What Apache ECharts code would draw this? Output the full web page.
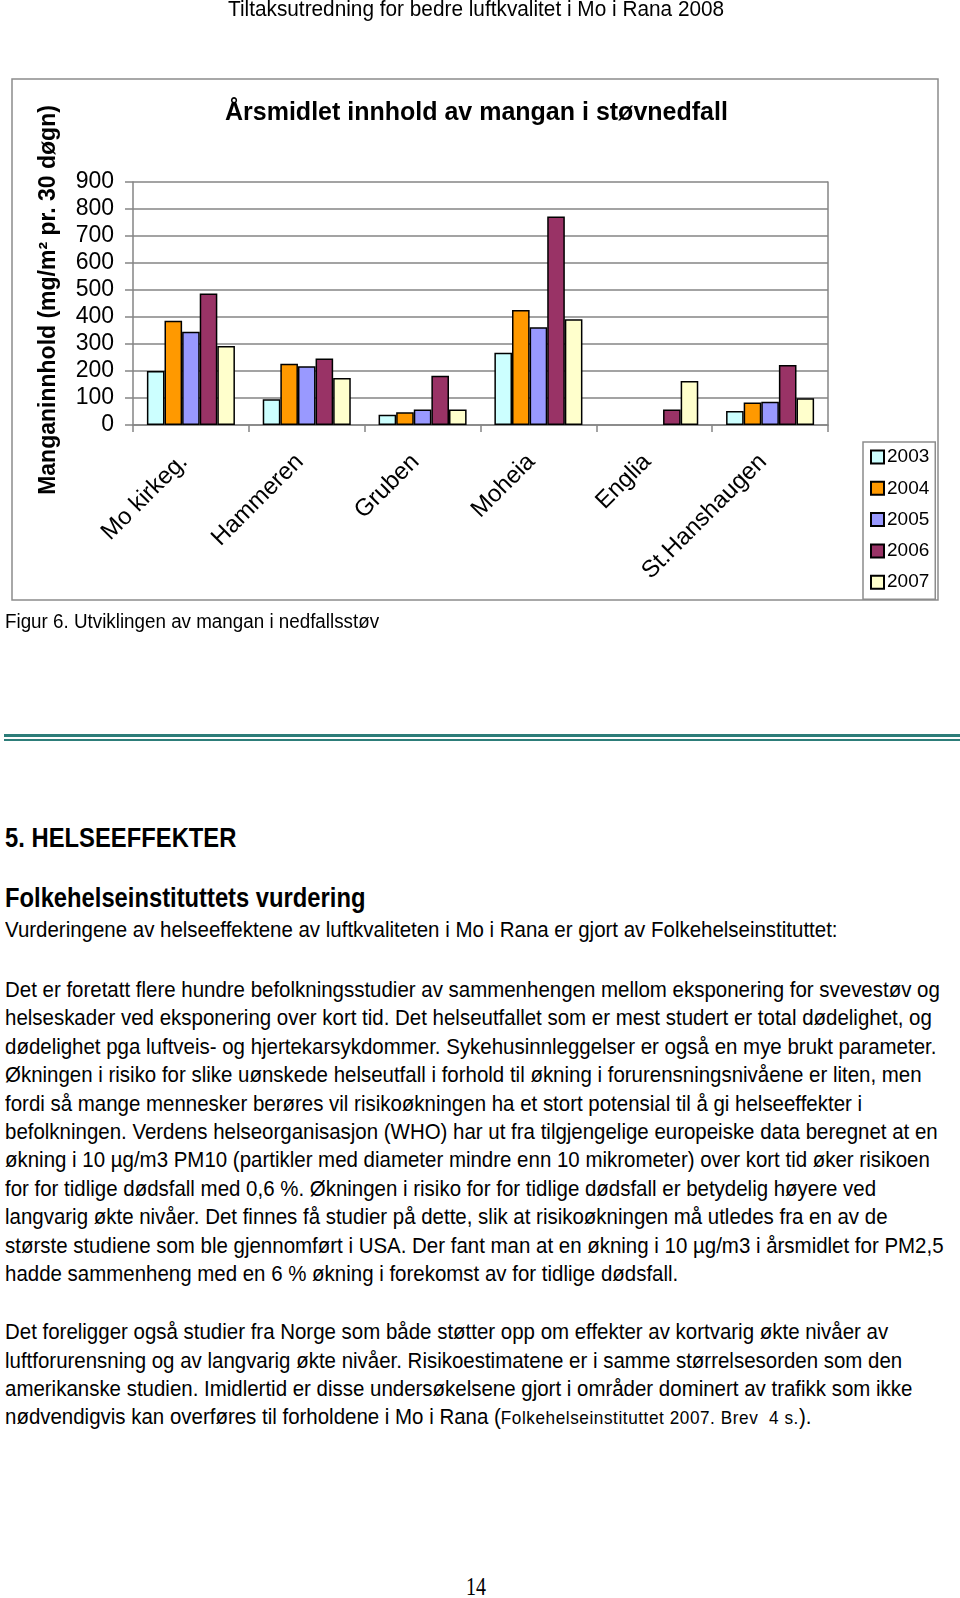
<!DOCTYPE html>
<html>
<head>
<meta charset="utf-8">
<title>Årsmidlet innhold av mangan i støvnedfall</title>
<script src="https://cdn.jsdelivr.net/npm/echarts@6/dist/echarts.min.js"></script>
<style>
  html, body {
    margin: 0;
    padding: 0;
    background: #fff;
  }
  body {
    position: relative;
    width: 960px;
    height: 1598px;
    overflow: hidden;
    font-family: "Liberation Sans", Arial, sans-serif;
    color: #000;
  }
  #chart {
    position: absolute;
    left: 0;
    top: 0;
    width: 960px;
    height: 640px;
  }
  .ln {
    position: absolute;
    white-space: pre;
    transform-origin: 0 0;
  }
  .rule {
    position: absolute;
    left: 4px;
    width: 956px;
    background: #2d7d79;
  }
  .small {
    font-size: 0.84em;
    letter-spacing: 0.6px;
  }
</style>
</head>
<body>
<div id="chart"></div>
<div class="rule" style="top:734px;height:3px"></div>
<div class="rule" style="top:739px;height:2px"></div>
<div id="page"></div>

<script>
// data (mg/m² pr. 30 døgn)
const categories = ['Mo kirkeg.', 'Hammeren', 'Gruben', 'Moheia', 'Englia', 'St.Hanshaugen'];
const years = ['2003', '2004', '2005', '2006', '2007'];
const v2003 = [200, 95, 38, 268, null, 52];
const v2004 = [386, 227, 47, 426, null, 83];
const v2005 = [345, 218, 57, 362, null, 86];
const v2006 = [487, 246, 182, 772, 57, 222];
const v2007 = [293, 174, 57, 392, 163, 99];
const yTicks = [0, 100, 200, 300, 400, 500, 600, 700, 800, 900];

const seriesValues = [v2003, v2004, v2005, v2006, v2007];
const barColors = ['#CCFFFF', '#FF9900', '#9999FF', '#993366', '#FFFFCC'];
const gridColor = '#858585';
const font = '"Liberation Sans", Arial, sans-serif';

const myChart = echarts.init(document.getElementById('chart'), null, { renderer: 'canvas' });

const option = {
  animation: false,
  backgroundColor: 'transparent',
  title: {
    text: 'Årsmidlet innhold av mangan i støvnedfall',
    left: 220,
    top: 96,
    textStyle: {
      color: '#000',
      fontFamily: font,
      fontWeight: 'bold',
      fontSize: 25
    }
  },
  graphic: [
    {
      type: 'rect',
      z: -1,
      shape: { x: 12, y: 79, width: 926, height: 521 },
      style: { fill: '#fff', stroke: '#8c8c8c', lineWidth: 1.5 }
    },
    {
      type: 'text',
      x: 49,
      y: 300,
      rotation: Math.PI / 2,
      style: {
        text: 'Manganinnhold (mg/m² pr. 30 døgn)',
        fill: '#000',
        font: 'bold 23px ' + font,
        align: 'center',
        verticalAlign: 'middle'
      }
    }
  ],
  legend: {
    orient: 'vertical',
    left: 863,
    top: 442,
    width: 75,
    padding: [5, 6, 7, 7],
    itemWidth: 13,
    itemHeight: 13,
    itemGap: 11.3,
    backgroundColor: '#fff',
    borderColor: '#8c8c8c',
    borderWidth: 1.5,
    borderRadius: 0,
    icon: 'rect',
    data: years,
    textStyle: {
      color: '#000',
      fontFamily: font,
      fontSize: 19,
      lineHeight: 20,
      padding: [0, 0, 0, -2]
    }
  },
  grid: {
    left: 133,
    top: 182,
    right: 132,
    bottom: 215,
    containLabel: false,
    outerBoundsMode: 'none',
    show: false
  },
  xAxis: {
    type: 'category',
    data: categories,
    boundaryGap: true,
    axisLine: { show: true, lineStyle: { color: gridColor, width: 1.5 } },
    axisTick: { show: true, length: 7, alignWithLabel: false, lineStyle: { color: gridColor, width: 1.5 } },
    axisLabel: {
      interval: 0,
      rotate: 45,
      margin: 26,
      padding: [0, 10, 0, 0],
      color: '#000',
      fontFamily: font,
      fontSize: 24
    },
    splitLine: { show: false }
  },
  yAxis: [
    {
      type: 'value',
      min: 0,
      max: 900,
      interval: 100,
      axisLine: { show: true, lineStyle: { color: gridColor, width: 1.5 } },
      axisTick: { show: true, length: 8, inside: false, lineStyle: { color: gridColor, width: 1.5 } },
      axisLabel: {
        margin: 19,
        color: '#000',
        fontFamily: font,
        fontSize: 23,
        formatter: (v) => (yTicks.indexOf(v) >= 0 ? String(v) : '')
      },
      splitLine: { show: true, lineStyle: { color: gridColor, width: 1.5 } }
    },
    {
      type: 'value',
      position: 'right',
      min: 0,
      max: 900,
      interval: 100,
      axisLine: { show: true, lineStyle: { color: gridColor, width: 1.5 } },
      axisTick: { show: false },
      axisLabel: { show: false },
      splitLine: { show: false }
    }
  ],
  series: years.map((y, i) => ({
    name: y,
    type: 'bar',
    yAxisIndex: 0,
    data: seriesValues[i],
    barGap: '0%',
    barCategoryGap: '24%',
    itemStyle: {
      color: barColors[i],
      borderColor: '#000',
      borderWidth: 1.5
    }
  }))
};

myChart.setOption(option);

// page text around the figure
const lines = [
  { t: 'Tiltaksutredning for bedre luftkvalitet i Mo i Rana 2008', b: 17, fs: 22, sx: 0.945, center: 476 },
  { t: 'Figur 6. Utviklingen av mangan i nedfallsstøv', b: 628, fs: 20, sx: 0.94 },
  { t: '5. HELSEEFFEKTER', b: 848, fs: 28, sx: 0.85, bold: true },
  { t: 'Folkehelseinstituttets vurdering', b: 908, fs: 27, sx: 0.88, bold: true },
  { t: 'Vurderingene av helseeffektene av luftkvaliteten i Mo i Rana er gjort av Folkehelseinstituttet:', b: 937.5, fs: 22, sx: 0.93 }
];

const para1 = [
  'Det er foretatt flere hundre befolkningsstudier av sammenhengen mellom eksponering for svevestøv og',
  'helseskader ved eksponering over kort tid. Det helseutfallet som er mest studert er total dødelighet, og',
  'dødelighet pga luftveis- og hjertekarsykdommer. Sykehusinnleggelser er også en mye brukt parameter.',
  'Økningen i risiko for slike uønskede helseutfall i forhold til økning i forurensningsnivåene er liten, men',
  'fordi så mange mennesker berøres vil risikoøkningen ha et stort potensial til å gi helseeffekter i',
  'befolkningen. Verdens helseorganisasjon (WHO) har ut fra tilgjengelige europeiske data beregnet at en',
  'økning i 10 µg/m3 PM10 (partikler med diameter mindre enn 10 mikrometer) over kort tid øker risikoen',
  'for for tidlige dødsfall med 0,6 %. Økningen i risiko for for tidlige dødsfall er betydelig høyere ved',
  'langvarig økte nivåer. Det finnes få studier på dette, slik at risikoøkningen må utledes fra en av de',
  'største studiene som ble gjennomført i USA. Der fant man at en økning i 10 µg/m3 i årsmidlet for PM2,5',
  'hadde sammenheng med en 6 % økning i forekomst av for tidlige dødsfall.'
];
const para2 = [
  'Det foreligger også studier fra Norge som både støtter opp om effekter av kortvarig økte nivåer av',
  'luftforurensning og av langvarig økte nivåer. Risikoestimatene er i samme størrelsesorden som den',
  'amerikanske studien. Imidlertid er disse undersøkelsene gjort i områder dominert av trafikk som ikke',
  'nødvendigvis kan overføres til forholdene i Mo i Rana (<span class="small">Folkehelseinstituttet 2007. Brev  4 s.</span>).'
];

const lineStep = 28.4;
para1.forEach((t, i) => lines.push({ t: t, b: 997.7 + i * lineStep, fs: 22, sx: 0.93 }));
para2.forEach((t, i) => lines.push({ t: t, b: 999 + (12 + i) * lineStep, fs: 22, sx: 0.93, html: true }));

const page = document.getElementById('page');
lines.forEach((l) => {
  const d = document.createElement('div');
  d.className = 'ln';
  if (l.html) d.innerHTML = l.t; else d.textContent = l.t;
  d.style.fontSize = l.fs + 'px';
  d.style.lineHeight = l.fs + 'px';
  d.style.fontWeight = l.bold ? 'bold' : 'normal';
  d.style.top = (l.b - 0.8465 * l.fs) + 'px';
  d.style.left = '5px';
  d.style.transform = 'scaleX(' + l.sx + ')';
  page.appendChild(d);
  if (l.center) {
    const w = d.getBoundingClientRect().width;
    d.style.left = (l.center - w / 2) + 'px';
  }
});

// page number
const pn = document.createElement('div');
pn.className = 'ln';
pn.textContent = '14';
pn.style.fontFamily = '"Liberation Serif", "Times New Roman", serif';
pn.style.fontSize = '25px';
pn.style.lineHeight = '25px';
pn.style.top = (1595 - 0.8465 * 25) + 'px';
pn.style.left = '466px';
pn.style.transform = 'scaleX(0.8)';
page.appendChild(pn);
</script>
</body>
</html>
